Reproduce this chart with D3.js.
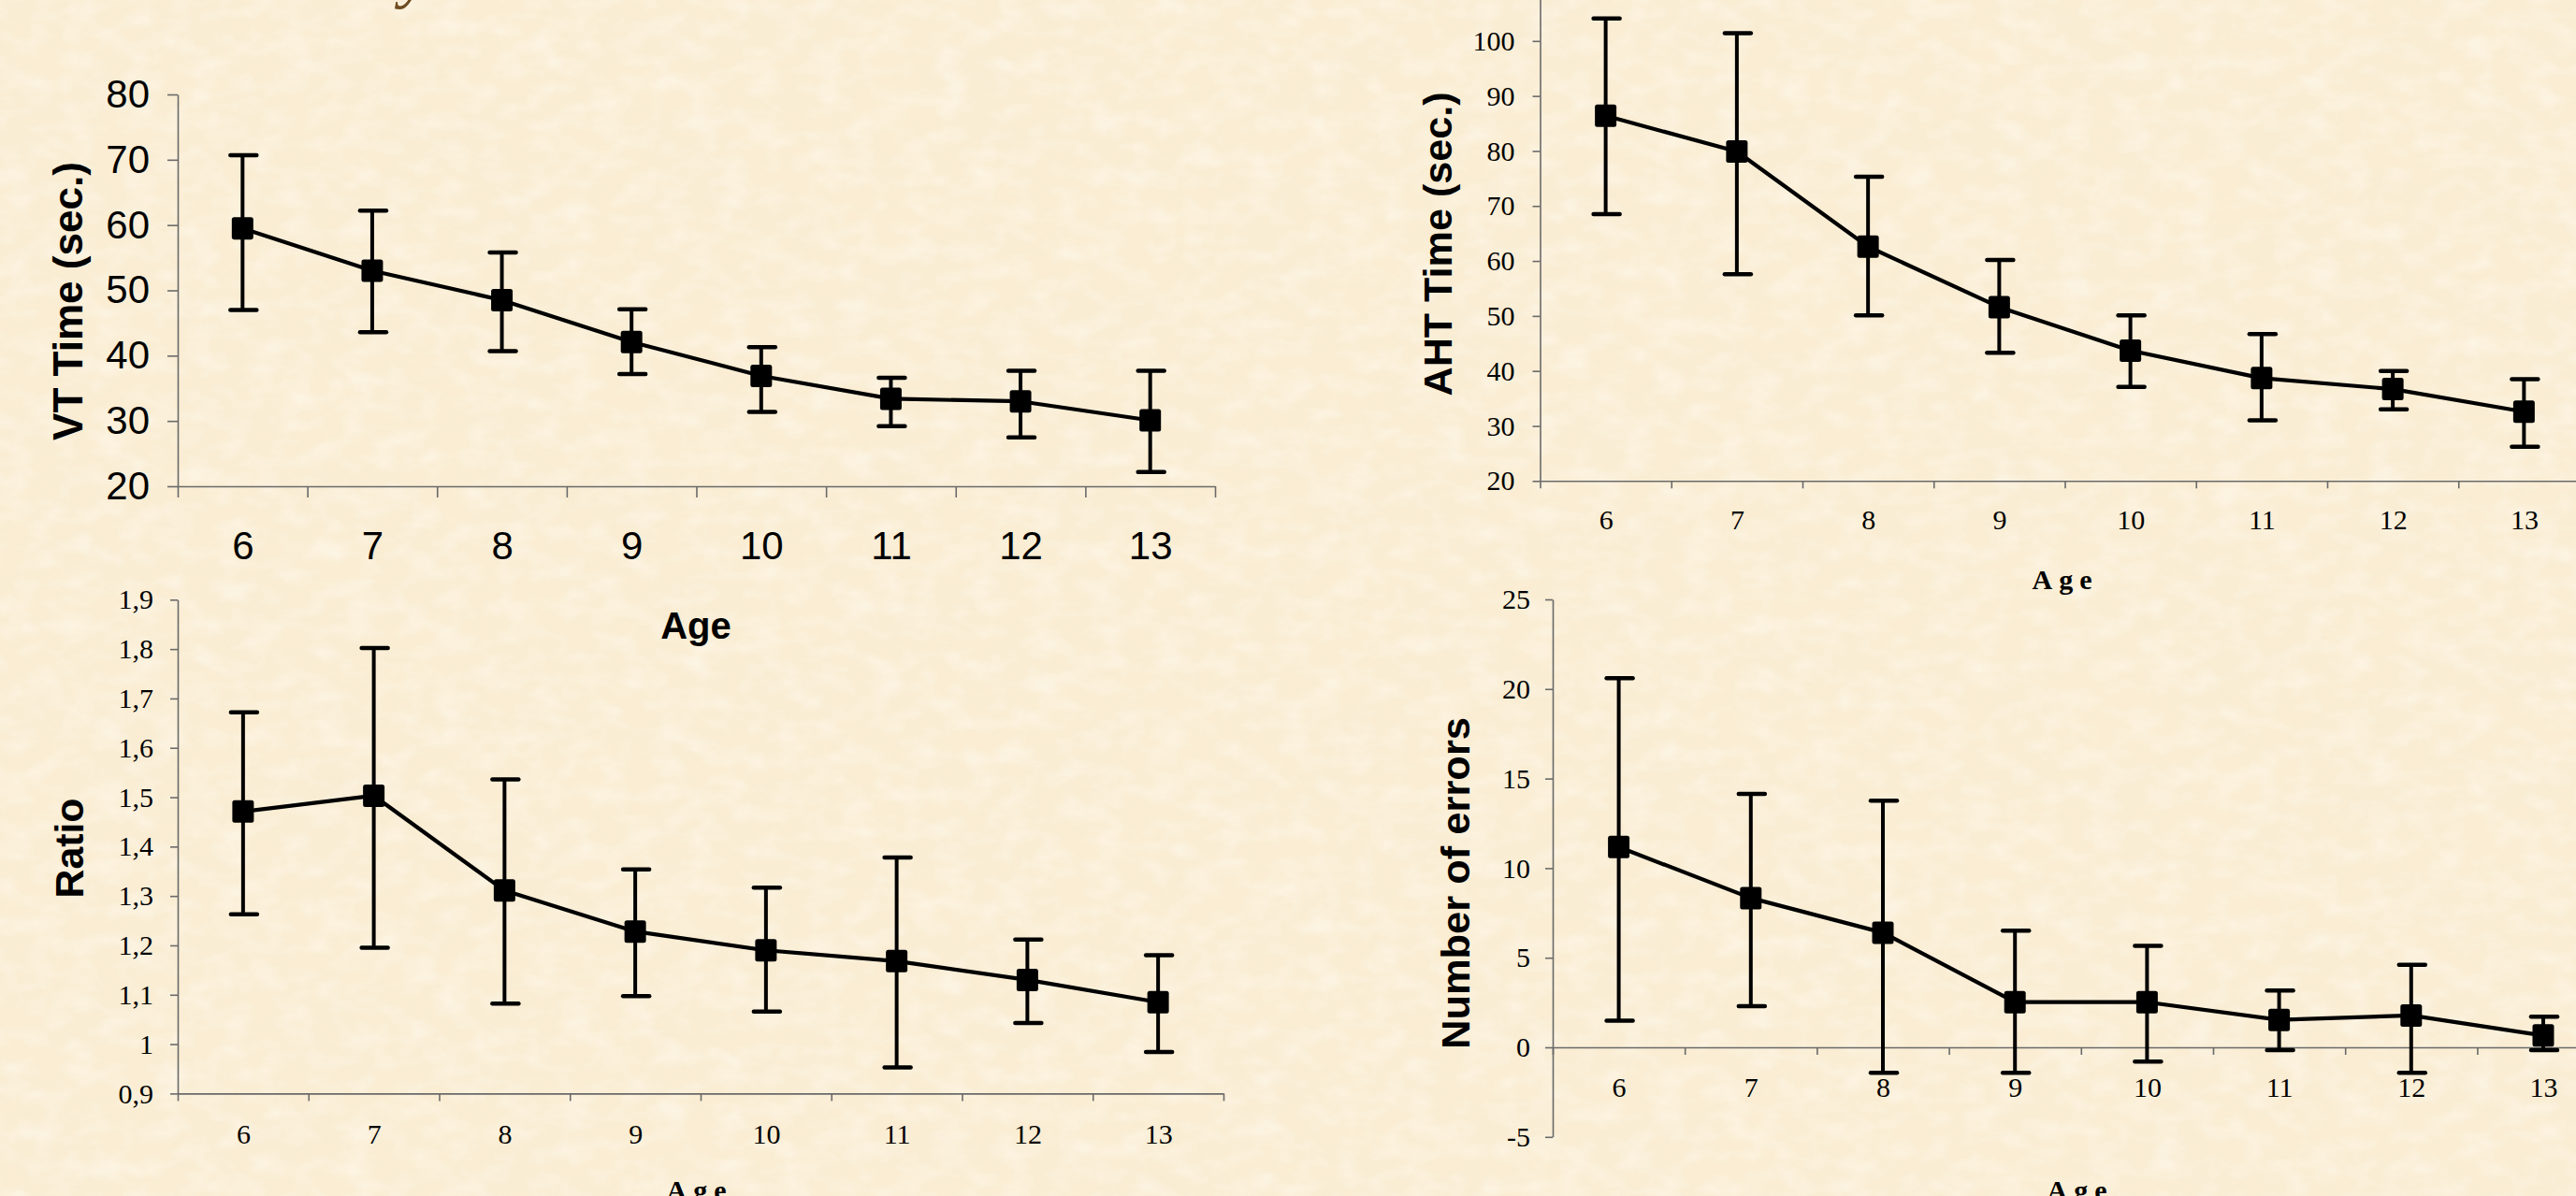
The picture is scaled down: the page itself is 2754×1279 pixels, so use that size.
<!DOCTYPE html>
<html><head><meta charset="utf-8">
<script src="https://cdn.jsdelivr.net/npm/d3@7"></script>
<style>html,body{margin:0;padding:0;overflow:hidden;background:#FAEDD3}</style>
</head><body>
<script>
// ---------- data ----------
const ages = ["6","7","8","9","10","11","12","13"];
const xTitle = "Age";

const vtMean  = [59.5, 53.0, 48.5, 42.1, 36.9, 33.4, 33.0, 30.1];
const vtUpper = [70.7, 62.2, 55.8, 47.1, 41.3, 36.6, 37.7, 37.7];
const vtLower = [47.0, 43.6, 40.7, 37.2, 31.4, 29.2, 27.5, 22.2];
const vtTicks = [20, 30, 40, 50, 60, 70, 80];
const vtTitle = "VT Time (sec.)";

const ahtMean  = [86.4, 79.9, 62.6, 51.6, 43.7, 38.7, 36.7, 32.6];
const ahtUpper = [104.1, 101.4, 75.3, 60.2, 50.1, 46.7, 40.0, 38.5];
const ahtLower = [68.5, 57.6, 50.1, 43.3, 37.1, 31.0, 33.0, 26.2];
const ahtTicks = [20, 30, 40, 50, 60, 70, 80, 90, 100];
const ahtTitle = "AHT Time (sec.)";

const ratioMean  = [1.471, 1.503, 1.311, 1.228, 1.190, 1.168, 1.130, 1.085];
const ratioUpper = [1.672, 1.802, 1.536, 1.354, 1.317, 1.378, 1.212, 1.180];
const ratioLower = [1.263, 1.195, 1.082, 1.097, 1.066, 0.953, 1.043, 0.984];
const ratioTicks = [0.9, 1.0, 1.1, 1.2, 1.3, 1.4, 1.5, 1.6, 1.7, 1.8, 1.9];
const ratioTickLabels = ["0,9","1","1,1","1,2","1,3","1,4","1,5","1,6","1,7","1,8","1,9"];
const ratioTitle = "Ratio";

const errMean  = [11.18, 8.33, 6.40, 2.52, 2.52, 1.53, 1.78, 0.66];
const errUpper = [20.6, 14.15, 13.77, 6.51, 5.66, 3.17, 4.60, 1.71];
const errLower = [1.49, 2.30, -1.42, -1.42, -0.80, -0.16, -1.42, -0.16];
const errTicks = [-5, 0, 5, 10, 15, 20, 25];
const errTitle = "Number of errors";

// ---------- layout ----------
const W = 2754, H = 1279;
const svg = d3.select("body").append("svg").attr("width", W).attr("height", H);

const defs = svg.append("defs");
const f = defs.append("filter").attr("id","paper").attr("x",0).attr("y",0).attr("width","100%").attr("height","100%");
f.append("feTurbulence").attr("type","fractalNoise").attr("baseFrequency","0.010 0.016").attr("numOctaves",4).attr("seed",7).attr("result","n");
f.append("feColorMatrix").attr("type","matrix")
 .attr("values","0 0 0 0 0.93  0 0 0 0 0.84  0 0 0 0 0.66  1.6 0 0 0 -0.62");
const f2 = defs.append("filter").attr("id","paper2").attr("x",0).attr("y",0).attr("width","100%").attr("height","100%");
f2.append("feTurbulence").attr("type","fractalNoise").attr("baseFrequency","0.03 0.05").attr("numOctaves",3).attr("seed",19).attr("result","n");
f2.append("feColorMatrix").attr("type","matrix")
 .attr("values","0 0 0 0 1  0 0 0 0 0.98  0 0 0 0 0.93  1.5 0 0 0 -0.6");

svg.append("rect").attr("width",W).attr("height",H).attr("fill","#FAEDD3");
svg.append("rect").attr("width",W).attr("height",H).attr("filter","url(#paper)").attr("opacity",0.55);
svg.append("rect").attr("width",W).attr("height",H).attr("filter","url(#paper2)").attr("opacity",0.6);

// cut-off slide title descender (only its tail is visible at the top edge)
svg.append("text").attr("x",428).attr("y",-5).attr("font-family","Liberation Serif")
  .attr("font-style","italic").attr("font-size",72).attr("fill","#6E4B1F").text("y");

const axisColor = "#6a6a6a";
const SANS = "Liberation Sans, Arial, sans-serif";
const SERIF = "Liberation Serif, Times New Roman, serif";

const panels = [
  {mean:vtMean, up:vtUpper, lo:vtLower, ticks:vtTicks, fmt:d=>String(d), title:vtTitle,
   x0:190, x1:1299, dom:[20,80], rng:[520,101], axisAt:20,
   font:SANS, fsize:42, ytick:11, ypad:19, xtick:12, xlab:78,
   tX:88, tY:322, tLen:298, tSize:44,
   ageFont:SANS, ageSize:40, ageSpacing:0, ageX:744, ageY:683},
  {mean:ahtMean, up:ahtUpper, lo:ahtLower, ticks:ahtTicks, fmt:d=>String(d), title:ahtTitle,
   x0:1646.5, x1:2768.5, dom:[20,110], rng:[514.3,-15.0], axisAt:20,
   font:SERIF, fsize:30, ytick:8, ypad:19, xtick:8, xlab:52,
   tX:1552, tY:261, tLen:325, tSize:43,
   ageFont:SERIF, ageSize:30, ageSpacing:7, ageX:2208, ageY:630},
  {mean:ratioMean, up:ratioUpper, lo:ratioLower, ticks:ratioTicks, fmt:(d,i)=>ratioTickLabels[i], title:ratioTitle,
   x0:190, x1:1308, dom:[0.9,1.9], rng:[1169.4,641.3], axisAt:0.9,
   font:SERIF, fsize:30, ytick:8, ypad:18, xtick:8, xlab:54,
   tX:89, tY:907, tLen:107, tSize:43,
   ageFont:SERIF, ageSize:30, ageSpacing:7, ageX:748, ageY:1283},
  {mean:errMean, up:errUpper, lo:errLower, ticks:errTicks, fmt:d=>String(d), title:errTitle,
   x0:1660, x1:2789.6, dom:[-5,25], rng:[1215.8,641], axisAt:0,
   font:SERIF, fsize:30, ytick:8, ypad:16, xtick:8, xlab:53,
   tX:1571, tY:944.5, tLen:355, tSize:43,
   ageFont:SERIF, ageSize:30, ageSpacing:7, ageX:2224, ageY:1283}
];

panels.forEach(p => {
  const g = svg.append("g");
  const x = d3.scaleLinear().domain([0, ages.length]).range([p.x0, p.x1]);
  const y = d3.scaleLinear().domain(p.dom).range(p.rng);
  const ay = y(p.axisAt);

  // y axis
  const ya = g.append("g").attr("transform", `translate(${p.x0},0)`)
    .call(d3.axisLeft(y).tickValues(p.ticks).tickFormat(p.fmt)
      .tickSize(p.ytick).tickSizeOuter(0).tickPadding(p.ypad));
  // x axis (band boundaries)
  const xa = g.append("g").attr("transform", `translate(0,${ay})`)
    .call(d3.axisBottom(x).tickValues(d3.range(ages.length + 1)).tickFormat("")
      .tickSize(p.xtick).tickSizeOuter(0));
  // x labels at band centres
  const xl = g.append("g").attr("transform", `translate(0,${ay})`)
    .call(d3.axisBottom(x).tickValues(ages.map((_, i) => i + 0.5)).tickFormat((d, i) => ages[i])
      .tickSize(0).tickPadding(0));
  xl.select(".domain").remove();
  xl.selectAll("text").attr("y", p.xlab).attr("dy", null);

  [ya, xa, xl].forEach(a => {
    a.attr("font-family", p.font).attr("font-size", p.fsize);
    a.selectAll("path,line").attr("stroke", axisColor).attr("stroke-width", 1.6);
    a.selectAll("text").attr("fill", "#000");
  });

  // y title
  g.append("text")
    .attr("transform", `translate(${p.tX},${p.tY}) rotate(-90)`)
    .attr("text-anchor", "middle").attr("font-family", SANS).attr("font-weight", "bold")
    .attr("font-size", p.tSize).attr("textLength", p.tLen).attr("lengthAdjust", "spacingAndGlyphs")
    .attr("fill", "#000").text(p.title);

  // x title
  g.append("text").attr("x", p.ageX).attr("y", p.ageY).attr("text-anchor", "middle")
    .attr("font-family", p.ageFont).attr("font-weight", "bold").attr("font-size", p.ageSize)
    .attr("letter-spacing", p.ageSpacing).attr("fill", "#000").text(xTitle);

  const cx = i => x(i + 0.5);
  // line
  g.append("path").datum(p.mean)
    .attr("d", d3.line().x((d, i) => cx(i)).y(d => y(d)))
    .attr("fill", "none").attr("stroke", "#000").attr("stroke-width", 4.2).attr("stroke-linejoin", "round");
  // error bars
  const eb = g.append("g").attr("stroke", "#000");
  p.mean.forEach((m, i) => {
    eb.append("line").attr("x1", cx(i)).attr("x2", cx(i)).attr("y1", y(p.up[i])).attr("y2", y(p.lo[i])).attr("stroke-width", 4);
    [p.up[i], p.lo[i]].forEach(v => {
      eb.append("line").attr("x1", cx(i) - 13).attr("x2", cx(i) + 15).attr("y1", y(v)).attr("y2", y(v))
        .attr("stroke-width", 4.5).attr("stroke-linecap", "round");
    });
  });
  // markers
  g.append("g").selectAll("rect").data(p.mean).join("rect")
    .attr("x", (d, i) => cx(i) - 11.5).attr("y", d => y(d) - 12)
    .attr("width", 23).attr("height", 24).attr("rx", 2.5).attr("fill", "#000");
});
</script>
</body></html>
